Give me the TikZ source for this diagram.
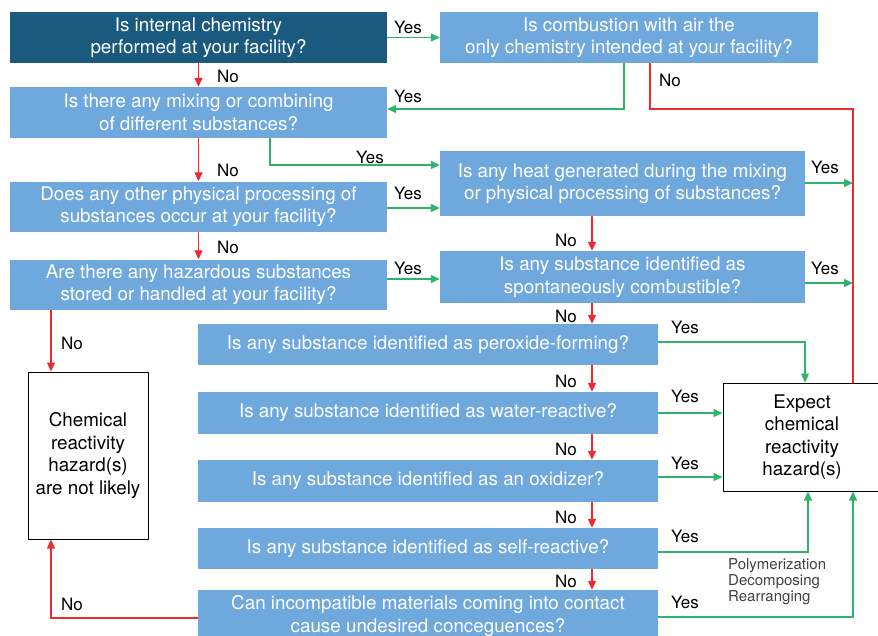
\documentclass[tikz,border=0pt]{standalone}
\usepackage{fontspec}
\setmainfont{TeX Gyre Heros}
\usetikzlibrary{arrows.meta}

\definecolor{qblue}{HTML}{6FA8DC}
\definecolor{qdark}{HTML}{1A5A7E}
\definecolor{ygreen}{HTML}{2DB36A}
\definecolor{nred}{HTML}{EE2A30}

\begin{document}
\begin{tikzpicture}[
  x=1pt, y=-1pt,
  q/.style={fill=qblue, text=white, align=center, inner sep=0pt,
            font=\fontsize{18.8}{22.5}\selectfont},
  qwide/.style={q, minimum width=377pt, minimum height=51pt},
  qmid/.style={q, minimum width=365pt},
  qlow/.style={q, minimum width=460pt, minimum height=42pt},
  res/.style={draw=black, line width=1pt, fill=white, align=center, inner sep=0pt,
              font=\fontsize{18.8}{22.5}\selectfont},
  lbl/.style={font=\fontsize{17}{20}\selectfont, inner sep=0pt},
  yes/.style={-{Triangle[length=9pt,width=8pt]}, draw=ygreen, line width=1.3pt},
  no/.style={-{Triangle[length=9pt,width=8pt]}, draw=nred, line width=1.3pt},
  nol/.style={draw=nred, line width=1.3pt},
]
\clip (0,0) rectangle (878,635);
\useasboundingbox (0,0) rectangle (878,635);

% left column
\node[qwide, fill=qdark] (chem) at (198.5,37.5) {Is internal chemistry\\performed at your facility?};
\node[qwide] (mix) at (198.5,112.5) {Is there any mixing or combining\\of different substances?};
\node[qwide, minimum height=50pt] (phys) at (198.5,206.5) {Does any other physical processing of\\substances occur at your facility?};
\node[qwide, minimum height=50pt] (haz) at (198.5,284.5) {Are there any hazardous substances\\stored or handled at your facility?};

% right column
\node[q, minimum width=378pt, minimum height=51pt] (comb) at (629,37.5) {Is combustion with air the\\only chemistry intended at your facility?};
\node[qmid, minimum height=65pt] (heat) at (622.5,183.5) {Is any heat generated during the mixing\\or physical processing of substances?};
\node[qmid, minimum height=52pt] (spont) at (622.5,277) {Is any substance identified as\\spontaneously combustible?};

% lower column
\node[qlow, minimum height=41pt] (perox) at (428,344.5) {Is any substance identified as peroxide-forming?};
\node[qlow] (water) at (428,413) {Is any substance identified as water-reactive?};
\node[qlow] (oxid) at (428,481) {Is any substance identified as an oxidizer?};
\node[qlow, minimum height=41pt] (self) at (428,548.5) {Is any substance identified as self-reactive?};
\node[qlow, minimum height=52pt] (incomp) at (428,616) {Can incompatible materials coming into contact\\cause undesired conceguences?};

% results
\node[res, minimum width=120pt, minimum height=167pt] (unlikely) at (88,455.5) {Chemical\\reactivity\\hazard(s)\\are not likely};
\node[res, minimum width=158pt, minimum height=108pt] (expect) at (802,437) {Expect\\chemical\\reactivity\\hazard(s)};
\node[lbl, font=\fontsize{15}{16}\selectfont, text=black!75, align=left, anchor=north west] (types) at (728,558) {Polymerization\\Decomposing\\Rearranging};

\coordinate (leftx) at (51,0);
\coordinate (nox) at (592,0);
\coordinate (bend) at (650,109);
\coordinate (bus) at (853,109);
\coordinate (perx) at (805,0);
\coordinate (selx) at (808,0);

% No connectors
\draw[no] (chem) -- (mix);
\draw[no] (mix) -- (phys);
\draw[no] (phys) -- (haz);
\draw[no] (haz.south -| leftx) -- (unlikely.north -| leftx);
\draw[no] (heat.south -| nox) -- (spont.north -| nox);
\draw[no] (spont.south -| nox) -- (perox.north -| nox);
\draw[no] (perox.south -| nox) -- (water.north -| nox);
\draw[no] (water.south -| nox) -- (oxid.north -| nox);
\draw[no] (oxid.south -| nox) -- (self.north -| nox);
\draw[no] (self.south -| nox) -- (incomp.north -| nox);
\draw[no] (incomp.west |- 0,618) -| (unlikely.south -| leftx);
\draw[nol] (comb.south -| bend) -- (bend) -- (bus) -- (expect.north -| bus);

% Yes connectors
\draw[yes] (chem.east) -- (comb.west |- chem.east);
\draw[yes] (comb.south -| 624,0) |- (mix.east |- 0,109);
\draw[yes] (mix.south -| 270,0) |- (heat.west |- 0,165);
\draw[yes] (phys.east |- 0,208) -- (heat.west |- 0,208);
\draw[yes] (haz.east |- 0,279) -- (spont.west |- 0,279);
\draw[yes] (heat.east |- 0,183) -- (bus |- 0,183);
\draw[yes] (spont.east |- 0,283) -- (bus |- 0,283);
\draw[yes] (perox.east |- 0,342) -| (expect.north -| perx);
\draw[yes] (water.east |- 0,413) -- (expect.west |- 0,413);
\draw[yes] (oxid.east |- 0,477) -- (expect.west |- 0,477);
\draw[yes] (self.east |- 0,552) -| (expect.south -| selx);
\draw[yes] (incomp.east |- 0,617) -| (expect.south -| bus);

% labels
\node[lbl] (y1) at (408,27) {Yes};
\node[lbl] (y2) at (408,96) {Yes};
\node[lbl] (y3) at (370,157) {Yes};
\node[lbl] (y4) at (408,193) {Yes};
\node[lbl] (y5) at (825,167) {Yes};
\node[lbl] (y6) at (408,268) {Yes};
\node[lbl] (y7) at (825,268) {Yes};
\node[lbl] (y8) at (685,327) {Yes};
\node[lbl] (y9) at (685,396) {Yes};
\node[lbl] (y10) at (685,463) {Yes};
\node[lbl] (y11) at (685,536) {Yes};
\node[lbl] (y12) at (685,602) {Yes};
\node[lbl] (n1) at (228,76) {No};
\node[lbl] (n2) at (228,170) {No};
\node[lbl] (n3) at (228,247) {No};
\node[lbl] (n4) at (566,240) {No};
\node[lbl] (n5) at (566,316) {No};
\node[lbl] (n6) at (566,381) {No};
\node[lbl] (n7) at (566,449) {No};
\node[lbl] (n8) at (566,517) {No};
\node[lbl] (n9) at (566,581) {No};
\node[lbl] (n10) at (72,343) {No};
\node[lbl] (n11) at (72,604) {No};
\node[lbl] (n12) at (670,80) {No};
\end{tikzpicture}
\end{document}
